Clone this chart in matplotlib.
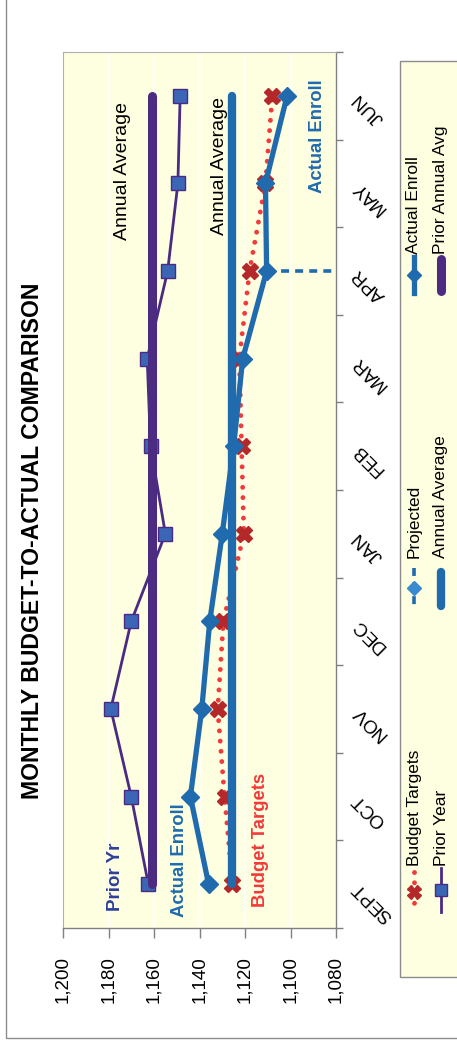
import matplotlib
matplotlib.use('Agg')
import matplotlib.pyplot as plt
from matplotlib.lines import Line2D
from matplotlib.patches import Rectangle
import numpy as np

plt.rcParams['font.family'] = ['Liberation Sans', 'DejaVu Sans']

# ---------------- data ----------------
months = ['SEPT', 'OCT', 'NOV', 'DEC', 'JAN', 'FEB', 'MAR', 'APR', 'MAY', 'JUN']
prior_year = [1162.5, 1170, 1179, 1170, 1155, 1161.5, 1163, 1154, 1149.5, 1148.5]
actual_enroll = [1136, 1144, 1139, 1135.5, 1130, 1125, 1121, 1110.5, 1111, 1101.5]
budget_targets = [1125.5, 1129, 1132, 1129.5, 1120.5, 1121.5, 1122.5, 1118, 1111, 1108]
annual_average = 1125.5
prior_annual_avg = 1161
projected_month = 'APR'
projected_values = [1110.5, 1080]
value_ticks = [1200, 1180, 1160, 1140, 1120, 1100, 1080]
value_labels = ['1,200', '1,180', '1,160', '1,140', '1,120', '1,100', '1,080']
title = 'MONTHLY BUDGET-TO-ACTUAL COMPARISON'

# ---------------- colours ----------------
C_BLUE = '#1F6BAE'
C_PURPLE = '#4B2A84'
C_SQ = '#3B66B6'
C_RED_DOT = '#F23A3A'
C_RED_X = '#B5282A'
C_NAVY = '#2E3F9A'
C_BG = '#FEFEE0'

W, H = 457, 1042
fig = plt.figure(figsize=(W / 100, H / 100), dpi=100)
fig.patch.set_facecolor('white')


def fx(x):
    return x / W


def fy(y):
    return 1 - y / H


# outer chart border
fig.add_artist(Rectangle((fx(6), fy(1038)), 1.2, 1.2, transform=fig.transFigure,
                         fill=False, edgecolor='#8c8c8c', lw=1.0))

ax = fig.add_axes([fx(63), fy(928), fx(336) - fx(63), fy(52) - fy(928)])
ax.set_facecolor(C_BG)
ax.set_xlim(1200, 1080)
ax.set_ylim(-0.5, len(months) - 0.5)
ax.set_xticks(value_ticks)
ax.set_xticklabels(value_labels, rotation=90)
ax.grid(axis='x', color='white', lw=1.2)
ax.set_axisbelow(True)

y = np.arange(len(months))
n = len(months)

# budget targets
ax.plot(budget_targets, y, color=C_RED_DOT, lw=3.5, linestyle=(0, (0.01, 2.1)),
        dash_capstyle='round', zorder=2)
ax.plot(budget_targets, y, linestyle='none', marker='X', ms=12, mfc=C_RED_X,
        mec=C_RED_X, zorder=2.1)
# prior year
ax.plot(prior_year, y, color=C_PURPLE, lw=2, marker='s', ms=10, mfc=C_SQ,
        mec=C_PURPLE, mew=1, zorder=3)
# averages
ax.plot([prior_annual_avg] * n, y, color='#4C2C80', lw=6.5, solid_capstyle='round', zorder=4)
ax.plot([annual_average] * n, y, color=C_BLUE, lw=6, solid_capstyle='round', zorder=4)
# projected
pi = months.index(projected_month)
ax.plot(projected_values, [pi] * len(projected_values), color=C_BLUE, lw=2.6,
        linestyle=(0, (2.2, 1.7)), zorder=4.5)
# actual enroll
ax.plot(actual_enroll, y, color=C_BLUE, lw=3.8, marker='D', ms=9.5, mfc=C_BLUE,
        mec=C_BLUE, zorder=5)

# axes styling
for s in ['top', 'left']:
    ax.spines[s].set_color('#b0b0b0')
    ax.spines[s].set_linewidth(0.8)
for s in ['bottom', 'right']:
    ax.spines[s].set_color('#808080')
    ax.spines[s].set_linewidth(1.0)

ax.tick_params(axis='x', direction='out', length=7, width=1, color='#808080',
               pad=13, labelsize=13.5)
ax.set_yticks(np.arange(-0.5, n, 1))
ax.set_yticklabels([])
ax.set_yticks(y, minor=True)
ax.set_yticklabels(months, minor=True)
ax.tick_params(axis='y', which='both', left=False, labelleft=False, right=True,
               labelright=True)
ax.tick_params(axis='y', which='major', length=5, width=1, color='#808080', direction='out')
ax.tick_params(axis='y', which='minor', length=0, pad=14, labelsize=13.5, labelrotation=135)
for t in ax.yaxis.get_minor_ticks():
    t.label2.set_ha('right')
    t.label2.set_va('center')
    t.label2.set_rotation_mode('anchor')

# in-plot annotations
ax.text(1173.7, 8.14, 'Annual Average', rotation=90, ha='center', va='center',
        fontsize=14, color='black')
ax.text(1131.2, 8.20, 'Annual Average', rotation=90, ha='center', va='center',
        fontsize=14, color='black')
ax.text(1088.2, 8.54, 'Actual Enroll', rotation=90, ha='center', va='center',
        fontsize=13.3, color=C_BLUE, fontweight='bold')
ax.text(1176.8, 0.08, 'Prior Yr', rotation=90, ha='center', va='center',
        fontsize=13.5, color=C_NAVY, fontweight='bold')
ax.text(1148.8, 0.27, 'Actual Enroll', rotation=90, ha='center', va='center',
        fontsize=13.3, color=C_BLUE, fontweight='bold')
ax.text(1113.1, 0.50, 'Budget Targets', rotation=90, ha='center', va='center',
        fontsize=13.3, color=C_RED_DOT, fontweight='bold')

# title
fig.text(fx(32.5), fy(540.5), title, rotation=90, ha='center', va='center',
         fontsize=16.6, fontweight='bold')

# legend (rotated, drawn manually)
fig.add_artist(Rectangle((fx(400), fy(977)), fx(80), fy(61) - fy(977),
                         transform=fig.transFigure, facecolor=C_BG,
                         edgecolor='#8c8c8c', lw=1.0))


def leg_line(x, y0, y1, **kw):
    fig.add_artist(Line2D([fx(x), fx(x)], [fy(y0), fy(y1)], transform=fig.transFigure, **kw))


def leg_marker(x, yc, **kw):
    fig.add_artist(Line2D([fx(x)], [fy(yc)], transform=fig.transFigure, linestyle='none', **kw))


def leg_text(x, y0, s):
    fig.text(fx(x), fy(y0), s, rotation=90, ha='center', va='bottom', fontsize=12.5)


r1, r2 = 414, 441
# Budget Targets
leg_line(r1, 872, 912, color=C_RED_DOT, lw=3.5, linestyle=(0, (0.01, 2.1)), dash_capstyle='round')
leg_marker(r1, 892, marker='X', ms=10, mfc=C_RED_X, mec=C_RED_X)
leg_text(r1, 866, 'Budget Targets')
# Projected
leg_line(r1, 568, 608, color=C_BLUE, lw=2.6, linestyle=(0, (2.2, 1.7)))
leg_marker(r1, 588, marker='D', ms=7, mfc='#3A8AD0', mec='#3A8AD0')
leg_text(r1, 558, 'Projected')
# Actual Enroll
leg_line(r1, 257, 293, color=C_BLUE, lw=3.8)
leg_marker(r1, 275, marker='D', ms=7, mfc=C_BLUE, mec=C_BLUE)
leg_text(r1, 254, 'Actual Enroll')
# Prior Year
leg_line(r2, 868, 912, color=C_PURPLE, lw=2)
leg_marker(r2, 890, marker='s', ms=9, mfc=C_SQ, mec=C_PURPLE)
leg_text(r2, 866, 'Prior Year')
# Annual Average
leg_line(r2, 572, 606, color=C_BLUE, lw=6, solid_capstyle='round')
leg_text(r2, 558, 'Annual Average')
# Prior Annual Avg
leg_line(r2, 259, 291, color='#4C2C80', lw=6.5, solid_capstyle='round')
leg_text(r2, 254, 'Prior Annual Avg')

fig.savefig('out.png', dpi=100, facecolor='white')
